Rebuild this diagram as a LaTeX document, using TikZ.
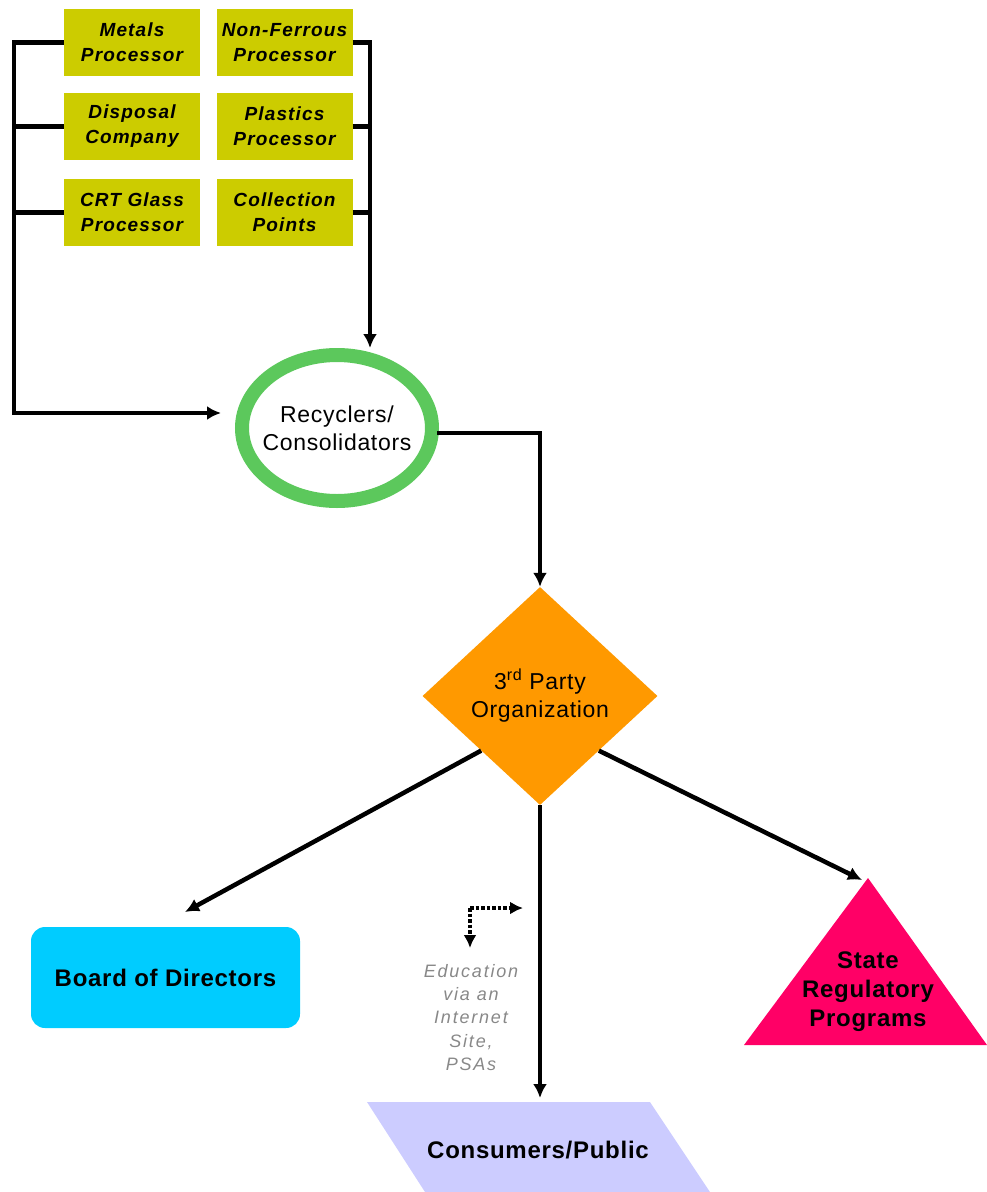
\documentclass[tikz,border=0pt]{standalone}
\usepackage{fontspec}
\setmainfont{Liberation Sans}
\usetikzlibrary{arrows.meta,shapes.geometric,calc}
\definecolor{boxy}{HTML}{CCCC00}
\definecolor{recg}{HTML}{5CC85C}
\definecolor{orng}{HTML}{FF9900}
\definecolor{cyanb}{HTML}{00CCFF}
\definecolor{pinkt}{HTML}{FF0066}
\definecolor{lav}{HTML}{CCCCFF}
\definecolor{edugrey}{HTML}{888888}
\begin{document}
\begin{tikzpicture}[x=1pt,y=-1pt,
  proc/.style={fill=boxy, minimum width=136, minimum height=67, inner sep=0pt, align=center,
    font=\fontsize{19}{25}\selectfont\bfseries\itshape\addfontfeature{LetterSpace=6}},
  conn/.style={line width=4.5pt, draw=black, line join=miter},
  arr/.style={conn, -{Latex[length=14pt,width=14pt]}},
  dots/.style={line width=3.5pt, dotted, -{Latex[length=13pt,width=13pt]}},
  mid/.style={font=\fontsize{23}{28}\selectfont\addfontfeature{LetterSpace=3}, align=center},
  big/.style={font=\fontsize{24}{29}\selectfont\bfseries\addfontfeature{LetterSpace=3}, align=center}]
\useasboundingbox (0,0) rectangle (987,1192);

% processor boxes
\node[proc] (metal) at (132,42.5) {Metals\\Processor};
\node[proc] (nonf)  at (284.5,42.5) {Non-Ferrous\\Processor};
\node[proc] (disp)  at (132,126.5) {Disposal\\Company};
\node[proc] (plas)  at (284.5,126.5) {Plastics\\Processor};
\node[proc] (crt)   at (132,212.5) {CRT Glass\\Processor};
\node[proc] (coll)  at (284.5,212.5) {Collection\\Points};

% recyclers
\node[ellipse, draw=recg, line width=14pt, minimum width=190, minimum height=146, inner sep=0pt,
  label={[mid]center:{Recyclers/\\Consolidators}}] (rec) at (337,428) {};

% buses
\coordinate (LT) at (14,42.5);
\coordinate (LB) at (14,413);
\coordinate (LE) at (221,413);
\coordinate (RT) at (370,42.5);
\coordinate (RE) at (370,348);
\draw[conn] (disp.west) -- (disp.west -| LT);
\draw[conn] (crt.west) -- (crt.west -| LT);
\draw[arr] (metal.west) -- (LT) -- (LB) -- (LE);
\draw[conn] (plas.east) -- (plas.east -| RT);
\draw[conn] (coll.east) -- (coll.east -| RT);
\draw[arr] (nonf.east) -- (RT) -- (RE);

% diamond
\node[diamond, fill=orng, minimum width=235, minimum height=218, inner sep=0pt,
  label={[mid]center:{3\textsuperscript{rd} Party\\Organization}}] (dia) at (540,696) {};
\coordinate (RC) at (437,433);
\draw[arr] (RC) -| (dia.north);

% board of directors
\node[fill=cyanb, rounded corners=14pt, minimum width=269, minimum height=101, big] (board) at (165.5,977.5) {Board of Directors};

% triangle
\coordinate (apex) at (868,878);
\fill[pinkt] (apex) -- (987,1045) -- (744,1045) -- cycle;
\node[big] (state) at (868,992) {State\\Regulatory\\Programs};

% parallelogram
\fill[lav] (367,1102) -- (650,1102) -- (710,1192) -- (425,1192) -- cycle;
\node[big] (cons) at (538,1150) {Consumers/Public};
\coordinate (constop) at (540,1098);

% arrows from diamond
\coordinate (bdtop) at (185,912);
\coordinate (sttop) at (862,880);
\draw[arr] (dia.south west) -- (bdtop);
\draw[arr] (dia.south east) -- (sttop);
\draw[arr] (dia.south) -- (constop);

% education
\node[text=edugrey, align=center, anchor=north,
  font=\fontsize{18}{23.2}\selectfont\itshape\addfontfeature{LetterSpace=10}] (edu) at (471,961)
  {Education\\via an\\Internet\\Site,\\PSAs};
\coordinate (ecorner) at (470,908);
\coordinate (eright) at (523,908);
\coordinate (edown) at (470,948);
\draw[dots] (ecorner) -- (eright);
\draw[dots] (ecorner) -- (edown);
\end{tikzpicture}
\end{document}
